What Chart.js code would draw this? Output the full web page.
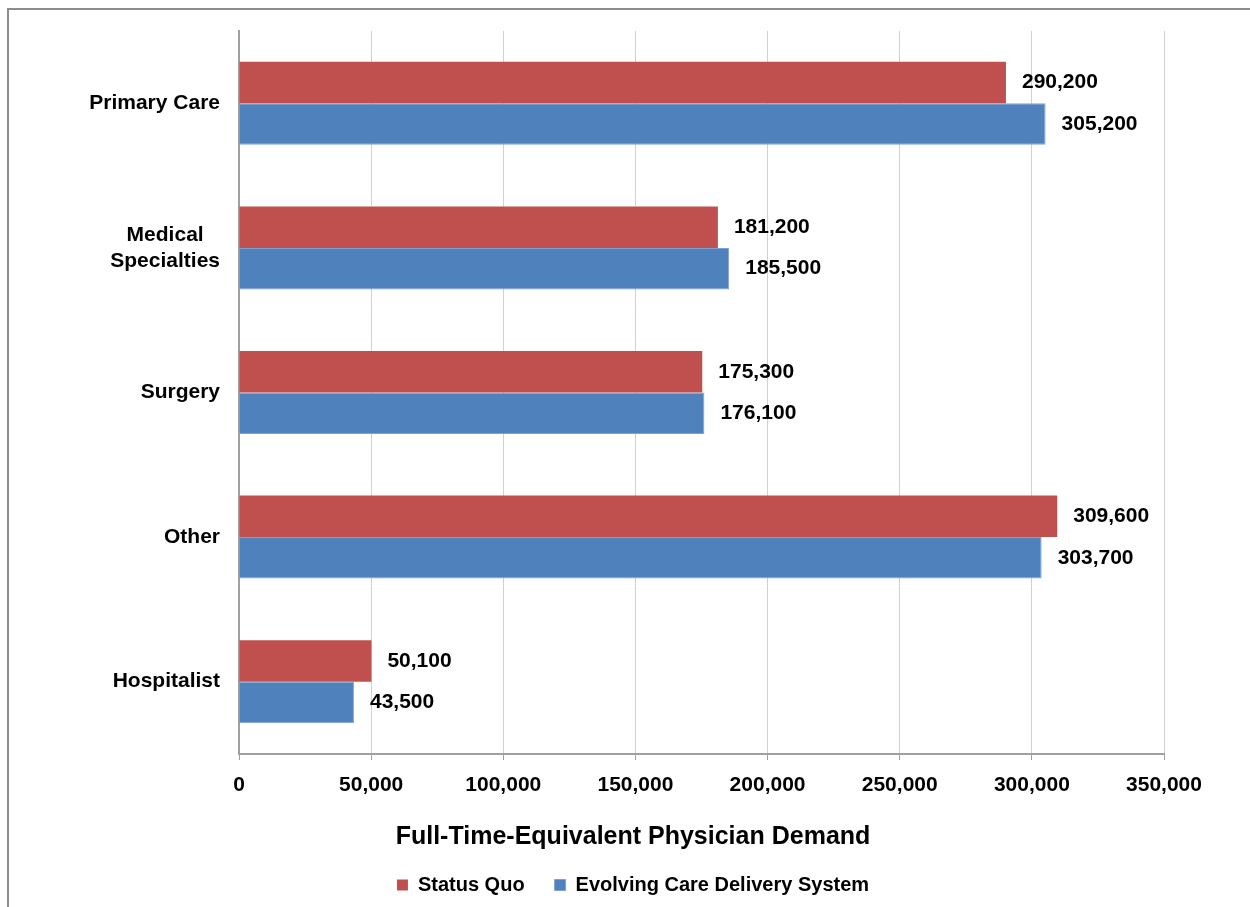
<!DOCTYPE html>
<html lang="en">
<head>
  <meta charset="UTF-8">
  <title>Full-Time-Equivalent Physician Demand</title>
  <script src="https://cdn.jsdelivr.net/npm/chart.js"></script>
  <style>
    html, body { margin: 0; padding: 0; background: #fff; overflow: hidden; }
    .wrap { position: relative; width: 1250px; height: 907px; }
    .frame {
      position: absolute; left: 7px; top: 8px; width: 2000px; height: 2000px;
      border-top: 2px solid #8c8c8c; border-left: 2px solid #8c8c8c;
      pointer-events: none;
    }
  </style>
</head>
<body>
  <div class="wrap">
    <canvas id="demandChart" width="1250" height="907"></canvas>
    <div class="frame"></div>
  </div>

  <script>
const categories = [['Primary Care'], ['Medical', 'Specialties'], ['Surgery'], ['Other'], ['Hospitalist']];
const statusQuo = [290200, 181200, 175300, 309600, 50100];
const evolvingCare = [305200, 185500, 176100, 303700, 43500];
const xTicks = [0, 50000, 100000, 150000, 200000, 250000, 300000, 350000];

const FONT = "'Liberation Sans', Arial, sans-serif";

// value labels to the right of each bar
const valueLabels = {
  id: 'valueLabels',
  afterDatasetsDraw(chart) {
    const ctx = chart.ctx;
    ctx.save();
    ctx.font = 'bold 21px ' + FONT;
    ctx.fillStyle = '#000';
    ctx.textAlign = 'left';
    ctx.textBaseline = 'middle';
    chart.data.datasets.forEach((ds, i) => {
      chart.getDatasetMeta(i).data.forEach((bar, j) => {
        ctx.fillText(ds.data[j].toLocaleString('en-US'), bar.x + 16, bar.y);
      });
    });
    ctx.restore();
  }
};

// category labels: block right-aligned to the axis, lines centred within the block
const categoryLabels = {
  id: 'categoryLabels',
  afterDraw(chart) {
    const ctx = chart.ctx;
    const y = chart.scales.y;
    const lineH = 26;
    ctx.save();
    ctx.font = 'bold 21px ' + FONT;
    ctx.fillStyle = '#000';
    ctx.textAlign = 'center';
    ctx.textBaseline = 'middle';
    categories.forEach((lines, i) => {
      const w = Math.max(...lines.map(l => ctx.measureText(l).width));
      const cx = y.right - 19 - w / 2;
      const cy = y.getPixelForValue(i);
      lines.forEach((l, k) => {
        ctx.fillText(l, cx, cy + (k - (lines.length - 1) / 2) * lineH);
      });
    });
    ctx.restore();
  }
};

new Chart(document.getElementById('demandChart'), {
  type: 'bar',
  data: {
    labels: categories,
    datasets: [{
      label: 'Status Quo',
      data: statusQuo,
      backgroundColor: '#C0504D',
      categoryPercentage: 0.574,
      barPercentage: 1
    }, {
      label: 'Evolving Care Delivery System',
      data: evolvingCare,
      backgroundColor: '#4F81BD',
      borderColor: '#7da2d2',
      borderWidth: 1,
      categoryPercentage: 0.574,
      barPercentage: 1
    }]
  },
  options: {
    indexAxis: 'y',
    responsive: false,
    animation: false,
    layout: { padding: { left: 102, right: 86, top: 31, bottom: 2 } },
    scales: {
      x: {
        min: 0,
        max: 350000,
        afterBuildTicks: axis => { axis.ticks = xTicks.map(v => ({ value: v })); },
        afterFit: axis => { axis.height = 50; },
        ticks: {
          color: '#000',
          font: { family: FONT, size: 21, weight: 'bold' },
          padding: 13,
          callback: v => v.toLocaleString('en-US')
        },
        grid: { color: '#d0d0d0', lineWidth: 1, tickColor: '#a0a0a0', tickLength: 6 },
        border: { color: '#a0a0a0', width: 2 }
      },
      y: {
        afterFit: axis => { axis.width = 137; },
        ticks: { display: false },
        grid: { display: false },
        border: { color: '#a0a0a0', width: 2 }
      }
    },
    plugins: {
      title: {
        display: true,
        position: 'bottom',
        weight: 500,
        text: 'Full-Time-Equivalent Physician Demand',
        color: '#000',
        font: { family: FONT, size: 25, weight: 'bold' },
        padding: { top: 18, bottom: -7 }
      },
      legend: {
        position: 'bottom',
        labels: {
          color: '#000',
          font: { family: FONT, size: 20, weight: 'bold' },
          boxWidth: 11,
          boxHeight: 11,
          padding: 30
        }
      },
      tooltip: { enabled: false }
    }
  },
  plugins: [valueLabels, categoryLabels]
});
  </script>
</body>
</html>
